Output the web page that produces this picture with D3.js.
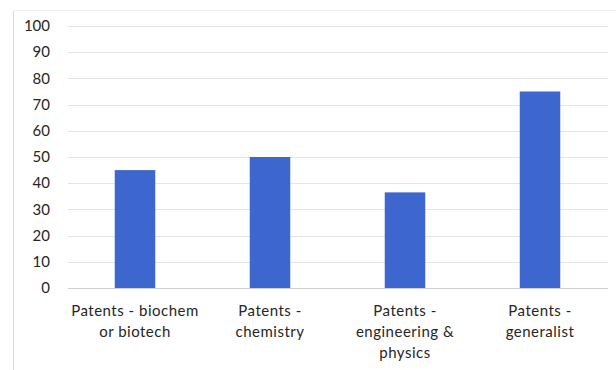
<!DOCTYPE html>
<html>
<head>
<meta charset="utf-8">
<script src="https://cdn.jsdelivr.net/npm/d3@7"></script>
<style>
  body { margin: 0; background: #fff; }
  svg { display: block; }
</style>
</head>
<body>
<svg id="chart" width="616" height="370"></svg>
<script>
const categories = [
  ["Patents - biochem", "or biotech"],
  ["Patents -", "chemistry"],
  ["Patents -", "engineering &", "physics"],
  ["Patents -", "generalist"]
];
const values = [45, 50, 36.5, 75];
const yTicks = [0, 10, 20, 30, 40, 50, 60, 70, 80, 90, 100];

const svg = d3.select("#chart");
const W = 616, H = 370;

// frame edges seen in the screenshot
svg.append("line").attr("x1", 13.5).attr("x2", 13.5).attr("y1", 10).attr("y2", H)
  .attr("stroke", "#d9d9d9");
svg.append("line").attr("x1", 13).attr("x2", W).attr("y1", 10.5).attr("y2", 10.5)
  .attr("stroke", "#eeeeee");

const x = d3.scaleBand()
  .domain(categories.map((d, i) => i))
  .range([67.5, 607.5])
  .paddingInner(0.7)
  .paddingOuter(0.35);

const y = d3.scaleLinear().domain([0, 100]).range([288, 26]);

// gridlines
svg.append("g")
  .selectAll("line")
  .data(yTicks)
  .join("line")
  .attr("x1", 68).attr("x2", 608)
  .attr("y1", d => Math.round(y(d)) + 0.5)
  .attr("y2", d => Math.round(y(d)) + 0.5)
  .attr("stroke", d => d == 0 ? "#d0d0d0" : "#e4e4e4");

// y labels
svg.append("g")
  .selectAll("text")
  .data(yTicks)
  .join("text")
  .attr("x", 50)
  .attr("y", d => y(d))
  .attr("dy", "0.35em")
  .attr("text-anchor", "end")
  .style("font-family", "Lato, sans-serif")
  .style("font-size", "15px")
  .style("fill", "#262626")
  .text(d => d);

// bars
svg.append("g")
  .selectAll("rect")
  .data(values)
  .join("rect")
  .attr("x", (d, i) => x(i))
  .attr("y", d => y(d))
  .attr("width", x.bandwidth())
  .attr("height", d => y(0) - y(d))
  .attr("fill", "#3e66cf");

// category labels
const lab = svg.append("g")
  .selectAll("text")
  .data(categories)
  .join("text")
  .attr("x", (d, i) => x(i) + x.bandwidth() / 2)
  .attr("y", 316)
  .attr("text-anchor", "middle")
  .style("font-family", "Lato, sans-serif")
  .style("font-size", "15px")
  .style("letter-spacing", "0.5px")
  .style("fill", "#262626");

lab.selectAll("tspan")
  .data(d => d)
  .join("tspan")
  .attr("x", function() { return d3.select(this.parentNode).attr("x"); })
  .attr("dy", (d, i) => i == 0 ? 0 : 21)
  .text(d => d);
</script>
</body>
</html>
